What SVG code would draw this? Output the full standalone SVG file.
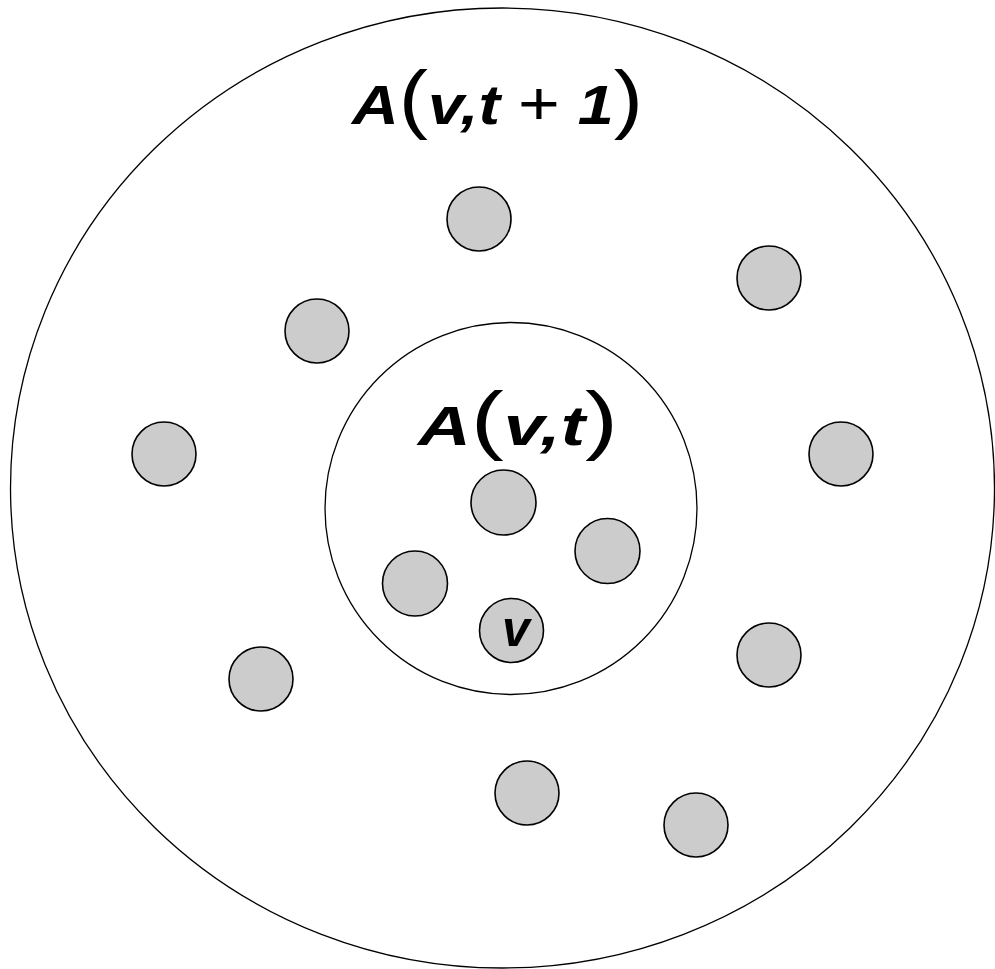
<svg xmlns="http://www.w3.org/2000/svg" width="995" height="969" viewBox="0 0 995 969">
<style>
.ring{fill:none;stroke:#000;stroke-width:1.3}
.n{fill:#cccccc;stroke:#000;stroke-width:1.6}
.lbl{font-family:"Liberation Sans","DejaVu Sans",sans-serif;font-style:italic;font-weight:bold;fill:#000}
.op{font-style:normal;font-weight:normal;font-size:62px}
.par{font-style:normal;font-weight:normal;font-size:76px}
</style>
<rect width="995" height="969" fill="#fff"/>
<g id="outer">
<ellipse class="ring" cx="502.5" cy="488" rx="492" ry="480"/>
<text class="lbl" x="352" y="124" font-size="56" textLength="291" lengthAdjust="spacingAndGlyphs">A<tspan class="par">(</tspan>v,t <tspan class="op">+</tspan> 1<tspan class="par">)</tspan></text>
</g>
<g id="inner">
<circle class="ring" cx="511" cy="508.5" r="186"/>
<text class="lbl" x="418" y="445" font-size="56" textLength="200" lengthAdjust="spacingAndGlyphs">A<tspan class="par">(</tspan>v,t<tspan class="par">)</tspan></text>
</g>
<g id="n1"><circle class="n" cx="479" cy="219" r="32"/></g>
<g id="n2"><circle class="n" cx="769" cy="278" r="32"/></g>
<g id="n3"><circle class="n" cx="317" cy="331" r="32"/></g>
<g id="n4"><circle class="n" cx="164" cy="454" r="32"/></g>
<g id="n5"><circle class="n" cx="841" cy="454" r="32"/></g>
<g id="n6"><circle class="n" cx="503.5" cy="502.5" r="32.5"/></g>
<g id="n7"><circle class="n" cx="607.5" cy="551" r="32.5"/></g>
<g id="n8"><circle class="n" cx="415" cy="583.5" r="32.5"/></g>
<g id="v"><circle class="n" cx="511.5" cy="630.5" r="32"/><text class="lbl" x="516" y="646" font-size="50" text-anchor="middle">v</text></g>
<g id="n9"><circle class="n" cx="261" cy="679" r="32"/></g>
<g id="n10"><circle class="n" cx="769" cy="655" r="32"/></g>
<g id="n11"><circle class="n" cx="527" cy="793" r="32"/></g>
<g id="n12"><circle class="n" cx="696" cy="825" r="32"/></g>
<g id="connectors"/>
</svg>
